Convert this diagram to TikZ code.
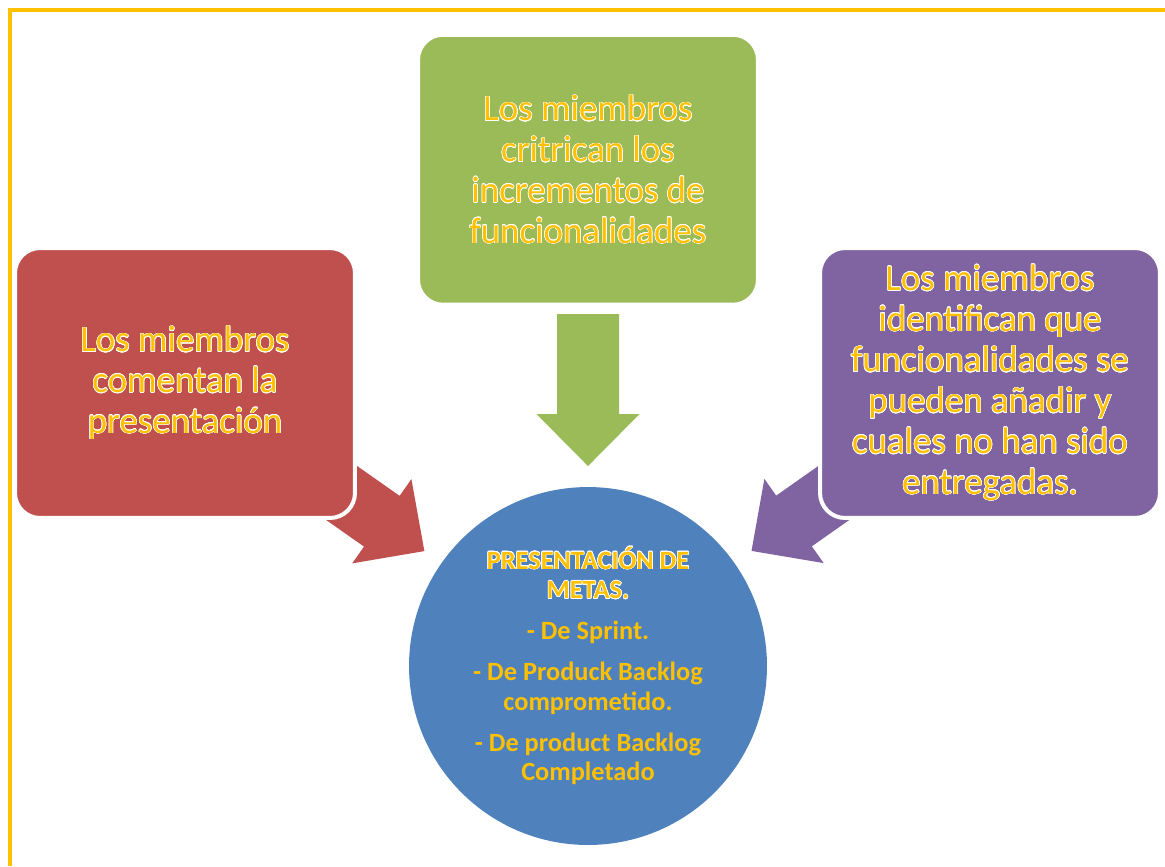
\documentclass[tikz,border=0pt]{standalone}
\usepackage{fontspec}
\setmainfont{Carlito}
\usepackage{contour}
\contourlength{0.35pt}
\usetikzlibrary{positioning,calc,backgrounds}

\definecolor{redfill}{HTML}{C0504D}
\definecolor{greenfill}{HTML}{9BBB59}
\definecolor{purplefill}{HTML}{8064A2}
\definecolor{bluefill}{HTML}{4F81BD}
\definecolor{goldtext}{HTML}{FFC000}

\newcommand{\glowtext}[1]{\contour{white}{#1}}

\tikzset{
	stepbox/.style={rectangle,rounded corners=0.5cm,draw=white,line width=0.08cm,
		minimum width=6.8cm,minimum height=5.4cm,align=center,text=goldtext,
		font=\fontsize{21}{23.2}\selectfont},
	goal/.style={circle,fill=bluefill,minimum size=7.16cm,inner sep=0pt,
		align=center,text=goldtext,font=\bfseries\fontsize{15}{16.8}\selectfont}
}

\begin{document}
\begin{tikzpicture}[x=0.02cm,y=-0.02cm]
	\useasboundingbox (0,0) rectangle (1165,866);
	\draw[goldtext,line width=0.066cm] (1165,10) -- (10,10) -- (10,866);
	
	\node[goal] at (588,666) (meta) {\glowtext{PRESENTACIÓN DE}\\ \glowtext{METAS.}\\[6.6pt]
		- De Sprint.\\[6.6pt]
		- De Produck Backlog\\ comprometido.\\[6.6pt]
		- De product Backlog\\ Completado};
	
	\node[stepbox,fill=greenfill,above=3.6cm of meta] (green) {\glowtext{Los miembros}\\
		\glowtext{critrican los}\\ \glowtext{incrementos de}\\ \glowtext{funcionalidades}};
	\node[stepbox,fill=redfill] at (185,383) (red) {\glowtext{Los miembros}\\
		\glowtext{comentan la}\\ \glowtext{presentación}};
	\node[stepbox,fill=purplefill] at (990,383) (purple) {\glowtext{Los miembros}\\
		\glowtext{identifican que}\\ \glowtext{funcionalidades se}\\ \glowtext{pueden añadir y}\\
		\glowtext{cuales no han sido}\\ \glowtext{entregadas.}};
	
	\begin{scope}[on background layer]
	\foreach \src/\col in {red/redfill,green/greenfill,purple/purplefill}{
		\coordinate (tip) at ($(meta.center)!4cm!(\src.center)$);
		\coordinate (hb) at ($(meta.center)!5.04cm!(\src.center)$);
		\coordinate (tl) at ($(meta.center)!7.04cm!(\src.center)$);
		\fill[\col] (tip) -- ($(hb)!1.03cm!90:(meta.center)$) -- ($(hb)!0.62cm!90:(meta.center)$)
			-- ($(tl)!0.62cm!90:(meta.center)$) -- ($(tl)!0.62cm!-90:(meta.center)$)
			-- ($(hb)!0.62cm!-90:(meta.center)$) -- ($(hb)!1.03cm!-90:(meta.center)$) -- cycle;
	}
	\end{scope}
\end{tikzpicture}
\end{document}
